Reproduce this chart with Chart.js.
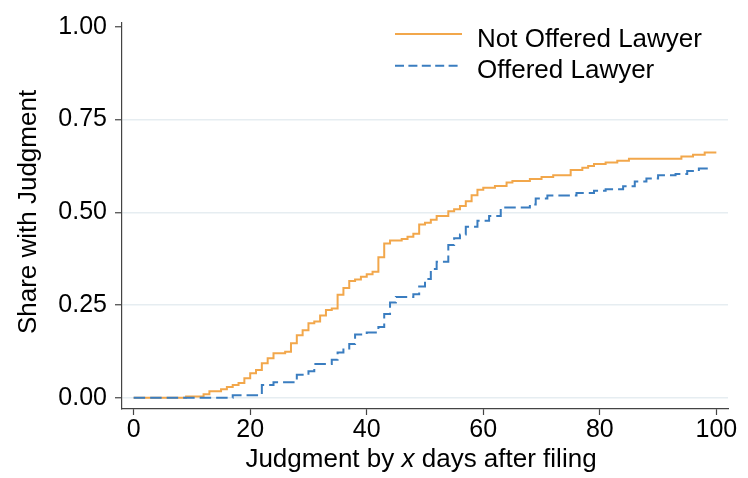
<!DOCTYPE html>
<html>
<head>
<meta charset="utf-8">
<script src="https://cdn.jsdelivr.net/npm/chart.js@4/dist/chart.umd.min.js"></script>
<style>
  html, body { margin: 0; padding: 0; background: #ffffff; }
  canvas { display: block; }
</style>
</head>
<body>
<canvas id="chart" width="748" height="478"></canvas>
<script>
// Cumulative share of cases with a judgment, by days after filing
const seriesLabels = ['Not Offered Lawyer', 'Offered Lawyer'];

const notOfferedDays = [0, 9, 12, 13, 15, 16, 17, 18, 19, 20, 21, 22, 23, 24, 26, 27, 28, 29, 30, 31,
  32, 33, 34, 35, 36, 37, 38, 39, 40, 41, 42, 43, 44, 46, 47, 48, 49, 50, 51, 52,
  54, 55, 56, 57, 58, 59, 60, 62, 64, 65, 68, 70, 72, 75, 77, 78, 79, 81, 83, 85,
  94, 96, 98, 100];
const notOfferedShare = [0, 0.004, 0.010, 0.018, 0.023, 0.029, 0.035, 0.040, 0.053, 0.066, 0.075, 0.093, 0.107, 0.120, 0.124, 0.147, 0.169, 0.182, 0.201, 0.206,
  0.222, 0.237, 0.241, 0.278, 0.296, 0.315, 0.319, 0.326, 0.333, 0.340, 0.379, 0.416, 0.424, 0.428, 0.434, 0.442, 0.467, 0.472, 0.480, 0.490,
  0.503, 0.508, 0.517, 0.530, 0.546, 0.561, 0.566, 0.571, 0.580, 0.584, 0.590, 0.595, 0.600, 0.614, 0.620, 0.625, 0.630, 0.634, 0.639, 0.644,
  0.650, 0.655, 0.661, 0.661];

const offeredDays = [0, 17, 22, 24, 28, 30, 31, 34, 35, 36, 37, 38, 40, 42, 43, 44, 45, 48, 49, 50,
  51, 52, 54, 55, 56, 57, 59, 61, 63, 68, 69, 71, 76, 79, 81, 84, 86, 88, 90, 93,
  95, 97, 99];
const offeredShare = [0, 0.007, 0.035, 0.042, 0.062, 0.072, 0.091, 0.103, 0.122, 0.130, 0.145, 0.171, 0.176, 0.191, 0.226, 0.257, 0.272, 0.279, 0.300, 0.320,
  0.347, 0.367, 0.412, 0.430, 0.440, 0.461, 0.477, 0.490, 0.513, 0.521, 0.537, 0.545, 0.552, 0.558, 0.562, 0.570, 0.583, 0.591, 0.600, 0.603,
  0.611, 0.618, 0.618];

const xTickValues = [0, 20, 40, 60, 80, 100];
const yTickValues = [0, 0.25, 0.5, 0.75, 1];
const xTitleParts = ['Judgment by ', 'x', ' days after filing'];
const yTitle = 'Share with Judgment';

const FONT = '"Liberation Sans", Arial, Helvetica, sans-serif';
const ORANGE = '#F2A74B';
const BLUE = '#3A7DC0';
const AXIS = '#444444';
const GRID = '#E6EDF1';

Chart.defaults.font.family = FONT;
Chart.defaults.color = '#000000';

function toPoints(days, share) {
  return days.map((d, i) => ({ x: d, y: share[i] }));
}

// Axis titles (the x title has an italic "x") and the in-plot legend
const titlesAndLegend = {
  id: 'titlesAndLegend',
  afterDraw(chart) {
    const { ctx, chartArea } = chart;
    const normal = '26px ' + FONT;
    const italic = 'italic 26px ' + FONT;
    ctx.save();
    ctx.fillStyle = '#000000';

    // x-axis title
    const fonts = [normal, italic, normal];
    const widths = xTitleParts.map((t, i) => { ctx.font = fonts[i]; return ctx.measureText(t).width; });
    const total = widths.reduce((a, b) => a + b, 0);
    let x = (chartArea.left + chartArea.right) / 2 - 4 - total / 2;
    ctx.textAlign = 'left';
    ctx.textBaseline = 'alphabetic';
    xTitleParts.forEach((t, i) => { ctx.font = fonts[i]; ctx.fillText(t, x, 467); x += widths[i]; });

    // y-axis title
    ctx.save();
    ctx.translate(29, (chartArea.top + chartArea.bottom) / 2 - 4);
    ctx.rotate(-Math.PI / 2);
    ctx.font = normal;
    ctx.textAlign = 'center';
    ctx.textBaseline = 'middle';
    ctx.fillText(yTitle, 0, 0);
    ctx.restore();

    // legend
    const legendDash = [[], [9, 4.4]];
    chart.data.datasets.forEach((ds, i) => {
      const ly = 34 + i * 31.7;
      ctx.save();
      ctx.strokeStyle = ds.borderColor;
      ctx.lineWidth = 2;
      ctx.setLineDash(legendDash[i]);
      ctx.beginPath();
      ctx.moveTo(395, ly);
      ctx.lineTo(462, ly);
      ctx.stroke();
      ctx.restore();
      ctx.font = normal;
      ctx.textAlign = 'left';
      ctx.textBaseline = 'alphabetic';
      ctx.fillText(ds.label, 477, ly + 12.5);
    });
    ctx.restore();
  }
};

new Chart(document.getElementById('chart'), {
  type: 'line',
  data: {
    datasets: [
      {
        label: seriesLabels[0],
        data: toPoints(notOfferedDays, notOfferedShare),
        borderColor: ORANGE,
        borderWidth: 2,
        stepped: 'before',
        pointRadius: 0,
        fill: false,
        order: 1
      },
      {
        label: seriesLabels[1],
        data: toPoints(offeredDays, offeredShare),
        borderColor: BLUE,
        borderWidth: 2,
        borderDash: [11.5, 5],
        stepped: 'before',
        pointRadius: 0,
        fill: false,
        order: 0
      }
    ]
  },
  options: {
    responsive: false,
    animation: false,
    devicePixelRatio: 1,
    layout: { padding: { top: 15, right: 20, left: 0, bottom: 0 } },
    plugins: {
      legend: { display: false },
      tooltip: { enabled: false }
    },
    scales: {
      x: {
        type: 'linear',
        min: -2,
        max: 102,
        afterBuildTicks: s => { s.ticks = xTickValues.map(v => ({ value: v })); },
        afterFit: s => { s.height = 69; },
        grid: { drawOnChartArea: false, tickLength: 6, tickColor: AXIS, tickWidth: 1.2 },
        border: { color: AXIS, width: 1.2 },
        ticks: { padding: 0, color: '#000000', font: { family: FONT, size: 25 }, maxRotation: 0, autoSkip: false }
      },
      y: {
        type: 'linear',
        min: -0.03,
        max: 1.01,
        afterBuildTicks: s => { s.ticks = yTickValues.map(v => ({ value: v })); },
        afterFit: s => { s.width = 122; },
        grid: {
          color: c => (c.tick && c.tick.value === 1 ? 'rgba(0,0,0,0)' : GRID),
          lineWidth: 1.5,
          tickLength: 7,
          tickColor: AXIS,
          tickWidth: 1.2
        },
        border: { color: AXIS, width: 1.2 },
        ticks: {
          padding: 8,
          color: '#000000',
          font: { family: FONT, size: 25 },
          autoSkip: false,
          callback: v => Number(v).toFixed(2)
        }
      }
    }
  },
  plugins: [titlesAndLegend]
});
</script>
</body>
</html>
